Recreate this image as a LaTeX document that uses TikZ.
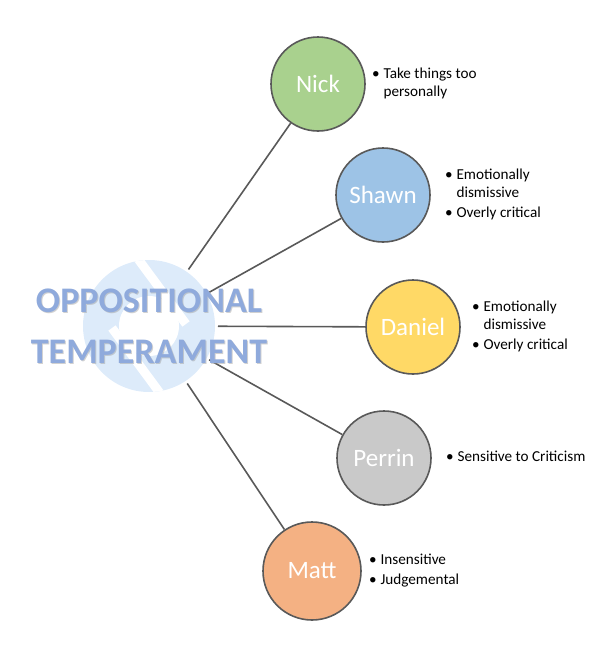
\documentclass[tikz,border=0pt]{standalone}
\usepackage{fontspec}
\setmainfont{Carlito}
\usetikzlibrary{positioning}
\definecolor{linegray}{RGB}{89,89,89}
\definecolor{nickgreen}{RGB}{169,209,142}
\definecolor{shawnblue}{RGB}{157,195,230}
\definecolor{danielyellow}{RGB}{255,217,102}
\definecolor{perringray}{RGB}{201,201,201}
\definecolor{mattorange}{RGB}{244,177,131}
\definecolor{hubfill}{RGB}{221,235,250}
\definecolor{hubtext}{RGB}{143,170,220}
\tikzset{
  person/.style={circle,draw=linegray,line width=1.6pt,minimum size=94pt,
    inner sep=0pt,text=white,font=\fontsize{25}{29}\selectfont},
  link/.style={draw=linegray,line width=1.6pt},
  notes/.style={inner sep=0pt,align=left,font=\fontsize{15.2}{18}\selectfont},
  hubfont/.style={align=center,font=\bfseries\fontsize{36}{51}\selectfont},
}
\newcommand{\blist}[1]{\begin{tabular}{@{}l@{\hspace{4pt}}l@{}}#1\end{tabular}}

\begin{document}
\begin{tikzpicture}[x=1pt,y=-1pt]
        \useasboundingbox (0,0) rectangle (598,648);
        % hub
        \node[circle,fill=hubfill,minimum size=132pt,inner sep=0pt,outer sep=3pt] (hub) at (149,326) {};
        \begin{scope}
          \clip (149,326) circle (66);
          \fill[white] (149,326) circle (30);
          \draw[white,line width=9pt] (130,248) -- (186,324);
          \draw[white,line width=9pt] (112,328) -- (168,404);
        \end{scope}
        % people
        \node[person,fill=nickgreen] (nick) at (318,84) {Nick};
        \node[person,fill=shawnblue] (shawn) at (383,195) {Shawn};
        \node[person,fill=danielyellow] (daniel) at (413,327) {Daniel};
        \node[person,fill=perringray] (perrin) at (384,458) {Perrin};
        \node[person,fill=mattorange,minimum size=98pt] (matt) at (312,571) {Matt};
        \foreach \p in {nick,shawn,daniel,perrin,matt}
          \draw[link] (hub) -- (\p);
        % notes
        \node[notes,right=6pt of nick] (nicknotes) {\blist{\textbullet & Take things too\\ & personally}};
        \node[notes,right=14pt of shawn] (shawnnotes) {\blist{\textbullet & Emotionally\\ & dismissive\\[2pt] \textbullet & Overly critical}};
        \node[notes,right=11pt of daniel] (danielnotes) {\blist{\textbullet & Emotionally\\ & dismissive\\[2pt] \textbullet & Overly critical}};
        \node[notes,right=14pt of perrin] (perrinnotes) {\blist{\textbullet & Sensitive to Criticism}};
        \node[notes,right=7pt of matt] (mattnotes) {\blist{\textbullet & Insensitive\\[2pt] \textbullet & Judgemental}};
        % hub title
        \node[hubfont,text=black!40,opacity=0.45] at ([shift={(1,1.5)}]hub.center) {OPPOSITIONAL\\TEMPERAMENT};
        \node[hubfont,text=hubtext] (title) at (hub.center) {OPPOSITIONAL\\TEMPERAMENT};
      \end{tikzpicture}
\end{document}
